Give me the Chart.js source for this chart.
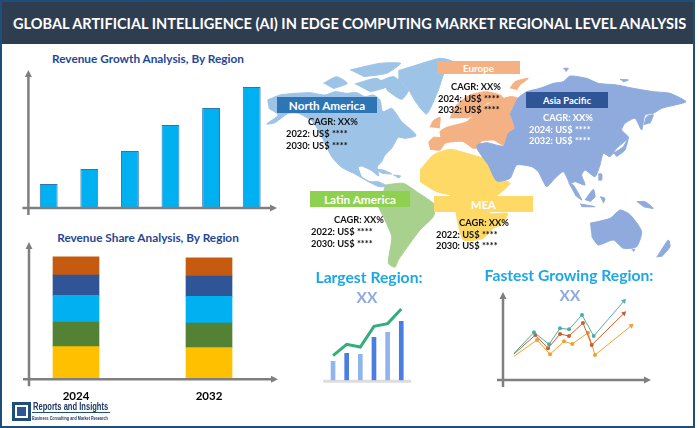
<!DOCTYPE html>
<html><head><meta charset="utf-8">
<script src="https://cdn.jsdelivr.net/npm/chart.js@4"></script>
<style>
html,body{margin:0;padding:0;background:#fff;}
body{width:700px;height:428px;position:relative;overflow:hidden;font-family:Lato,"Open Sans",sans-serif;}
#frame{position:absolute;left:0;top:0;width:691px;height:424px;border:2px solid #1F4E79;}
#header{position:absolute;left:2px;top:2px;width:691px;height:42px;background:#2E3D4F;}
#header span{position:absolute;left:11px;top:11px;color:#fff;font-weight:700;font-size:15px;line-height:20px;white-space:nowrap;transform-origin:left center;transform:scaleX(0.97);}
canvas{position:absolute;}
.t{position:absolute;white-space:nowrap;font-weight:700;transform:translate(-50%,-50%);}
.h{color:#1F4796;font-size:11.8px;}
.l{position:absolute;white-space:nowrap;font-weight:700;font-size:9.3px;color:#111;transform:translateY(-50%);}
.c{font-size:9.3px;color:#111;}
.w{color:#fff;}
.box{position:absolute;display:flex;align-items:center;justify-content:center;color:#fff;font-weight:700;white-space:nowrap;}
.big{color:#1DA7E5;font-size:15.7px;}
.xx{color:#8FAADC;font-size:15.5px;}
#logo{position:absolute;left:12px;top:402px;width:13px;height:13px;border:3px solid #1F4E79;background:#fff;}
#logo i{position:absolute;left:2px;top:2px;width:9px;height:9px;background:#2F5597;}
.n{font-family:"Liberation Sans",sans-serif;color:#1F3864;transform-origin:left center;transform:translateY(-50%) scaleX(0.72);}
</style></head><body>
<div id="frame"></div>
<div id="header"><span>GLOBAL ARTIFICIAL INTELLIGENCE (AI) IN EDGE COMPUTING MARKET REGIONAL LEVEL ANALYSIS</span></div>
<div class="t h" style="left:148px;top:58px">Revenue Growth Analysis, By Region</div>
<div class="t h" style="left:148px;top:237px">Revenue Share Analysis, By Region</div>

<canvas id="map" width="440" height="225" style="left:255px;top:50px"></canvas>
<canvas id="growth" width="285" height="165" style="left:0;top:60px"></canvas>
<canvas id="share" width="285" height="178" style="left:0;top:235px"></canvas>
<canvas id="mini" width="100" height="90" style="left:320px;top:300px"></canvas>
<canvas id="fast" width="170" height="105" style="left:490px;top:285px"></canvas>

<div class="box" style="left:277px;top:97px;width:100px;height:16px;background:#2E75B6;font-size:11.7px">North America</div>
<div class="box" style="left:437px;top:61px;width:83px;height:13px;background:#F4B183;font-size:9.8px">Europe</div>
<div class="box" style="left:526px;top:92px;width:82px;height:16px;background:#2F5597;font-size:9.5px">Asia Pacific</div>
<div class="box" style="left:310px;top:191px;width:100px;height:16px;background:#8ED04F;font-size:11.8px">Latin America</div>
<div class="box" style="left:434px;top:196px;width:99px;height:16px;background:#FFD966;font-size:11.2px">MEA</div>

<div class="t c" style="left:333px;top:121px">CAGR: XX%</div>
<div class="l" style="left:286px;top:133px">2022: US$ ****</div>
<div class="l" style="left:286px;top:145px">2030: US$ ****</div>
<div class="t c" style="left:476px;top:86px">CAGR: XX%</div>
<div class="l" style="left:438px;top:98px">2024: US$ ****</div>
<div class="l" style="left:438px;top:109px">2032: US$ ****</div>
<div class="t c w" style="left:568px;top:117px">CAGR: XX%</div>
<div class="l w" style="left:529px;top:129px">2024: US$ ****</div>
<div class="l w" style="left:529px;top:140px">2032: US$ ****</div>
<div class="t c" style="left:359px;top:219px">CAGR: XX%</div>
<div class="l" style="left:311px;top:231px">2022: US$ ****</div>
<div class="l" style="left:311px;top:243px">2030: US$ ****</div>
<div class="t c" style="left:484px;top:222px">CAGR: XX%</div>
<div class="l" style="left:436px;top:234px">2022: US$ ****</div>
<div class="l" style="left:436px;top:245px">2030: US$ ****</div>

<div class="t big" style="left:369px;top:277px">Largest Region:</div>
<div class="t xx" style="left:367px;top:297px">XX</div>
<div class="t big" style="left:569px;top:275px">Fastest Growing Region:</div>
<div class="t xx" style="left:570px;top:295px">XX</div>

<div id="logo"><i></i></div>
<div class="t n" style="left:33px;top:406px;font-size:10.5px">Reports and Insights</div>
<div style="position:absolute;left:32px;top:412px;width:78px;height:1px;background:#1F4E79"></div>
<div class="t n" style="left:32px;top:417.5px;font-size:5.2px">Business Consulting and Market Research</div>

<script>
// ---------- data ----------
const growthCategories = ['A','B','C','D','E','F'];
const growthValues = [24,39,57,83,100,121];

const shareYears = ['2024','2032'];
const shareYellow = [33,32];
const shareGreen  = [25,25];
const shareCyan   = [27,27];
const shareBlue   = [20.5,20.5];
const shareOrange = [18.5,18.5];

const miniCategories = ['1','2','3','4','5','6'];
const miniBars = [19,27,26,43,48,59];
const miniLine = [24.6,36,33.3,54,56.7,71.3];

const fastTealX = [11,31,46,57,66,79,90.7,121];
const fastTealY = [26.7,47.7,35.7,51.7,50.7,65,44,79];
const fastBrownX = [11,32.3,45,57,66,80,88.7,121];
const fastBrownY = [26,45,31.7,46,44,57,35,66.7];
const fastOrangeX = [11,34,47,61,69.3,85,92,128.3];
const fastOrangeY = [23.7,40,25.7,38.7,36,47.3,25,54.3];

// traced outlines in map units
const northAmerica = [
 [[-8,150],[30,135],[75,130],[120,128],[165,135],[195,125],[230,130],[260,128],[285,140],[310,135],[330,150],[338,185],[365,175],[378,190],[395,215],[430,245],[438,258],[405,265],[385,262],[365,295],[345,315],[335,335],[322,350],[326,378],[305,362],[275,348],[265,352],[275,380],[300,395],[325,395],[350,408],[328,410],[295,395],[255,372],[215,352],[185,320],[165,280],[145,240],[125,212],[85,190],[55,190],[15,218],[-10,222],[25,195],[-4,175]],
 [[385,62],[440,45],[510,25],[548,35],[522,70],[505,120],[470,192],[440,160],[410,110],[385,88]],
 [[160,100],[200,80],[232,100],[190,116]],
 [[240,60],[330,40],[392,40],[350,70],[280,80]],
 [[255,102],[320,85],[350,110],[300,126]],
 [[332,92],[372,80],[415,120],[395,148],[352,122]],
 [[310,358],[340,360],[365,372],[335,370]],
 [[370,375],[392,378],[385,385]]
];
const europe = [
 [[475,278],[490,262],[512,262],[510,245],[530,232],[590,215],[620,185],[660,160],[720,140],[742,145],[720,190],[735,235],[715,250],[700,285],[670,270],[630,275],[640,290],[610,295],[580,275],[550,275],[525,280],[510,300],[480,298]],
 [[540,205],[560,165],[600,135],[650,125],[690,135],[700,145],[650,160],[620,190],[590,205]],
 [[720,115],[735,95],[775,85],[750,105],[740,120]],
 [[480,232],[490,212],[510,202],[508,235]]
];
const asiaPacific = [
 [[742,145],[770,125],[810,115],[850,100],[880,95],[900,78],[950,85],[985,100],[1040,105],[1090,115],[1150,125],[1200,130],[1248,155],[1215,165],[1175,175],[1150,190],[1125,195],[1115,240],[1095,205],[1065,220],[1055,240],[1075,262],[1040,295],[1020,320],[1000,310],[990,345],[975,380],[945,360],[935,375],[945,405],[915,395],[900,400],[880,365],[855,385],[830,410],[805,365],[785,350],[740,345],[720,385],[680,393],[655,345],[640,325],[622,297],[622,285],[650,278],[700,288],[715,250],[735,235],[720,190]],
 [[1030,310],[1060,290],[1075,262],[1065,300],[1040,320]],
 [[1122,225],[1130,200],[1150,195],[1140,220]],
 [[895,398],[910,405],[935,450],[915,435]],
 [[945,450],[970,418],[975,440],[960,455]],
 [[985,372],[995,372],[995,390],[985,390]],
 [[990,440],[1005,445],[1000,460]],
 [[930,462],[975,470],[935,470]],
 [[1100,455],[1125,455],[1150,475],[1120,470]],
 [[960,520],[1020,505],[1050,480],[1075,490],[1090,505],[1115,545],[1100,590],[1060,595],[1030,570],[985,585],[965,560]],
 [[1160,622],[1195,570],[1200,590],[1175,620]],
 [[1085,598],[1095,598],[1090,605]],
 [[880,55],[895,55],[888,65]],
 [[1050,88],[1075,90],[1060,96]]
];
const africa = [
 [[450,360],[490,315],[540,298],[590,310],[640,325],[660,345],[680,380],[720,400],[690,430],[665,450],[660,490],[712,490],[700,520],[670,535],[640,565],[580,570],[560,500],[550,440],[500,425],[450,395]]
];
const southAmerica = [
 [[345,405],[400,400],[440,425],[495,465],[490,500],[450,540],[420,580],[385,630],[375,652],[355,640],[365,560],[340,500],[325,470]]
];

// ---------- helpers ----------
const GRAY = '#7F7F7F';
const arrowAxes = {
  id:'arrowAxes',
  afterDraw(chart){
    const o = chart.options.plugins.arrowAxes; if(!o) return;
    const {ctx,chartArea:a} = chart;
    const yAt = chart.scales.y.getPixelForValue(0);
    const xAt = a.left+(o.inset||0);
    const head = o.head||7, hw = o.headW||3.5;
    ctx.save();
    ctx.strokeStyle = ctx.fillStyle = GRAY; ctx.lineWidth = o.width||2.5;
    ctx.beginPath();
    ctx.moveTo(xAt-o.overLeft,yAt); ctx.lineTo(a.right+o.extRight-head+1,yAt);
    ctx.moveTo(xAt,yAt+o.overBottom); ctx.lineTo(xAt,a.top-o.extTop+head-1);
    ctx.stroke();
    ctx.beginPath();
    ctx.moveTo(a.right+o.extRight,yAt); ctx.lineTo(a.right+o.extRight-head,yAt-hw); ctx.lineTo(a.right+o.extRight-head,yAt+hw); ctx.closePath();
    ctx.moveTo(xAt,a.top-o.extTop); ctx.lineTo(xAt-hw,a.top-o.extTop+head); ctx.lineTo(xAt+hw,a.top-o.extTop+head); ctx.closePath();
    ctx.fill();
    ctx.restore();
  }
};
const groundLine = {
  id:'groundLine',
  beforeDatasetsDraw(chart){
    const o = chart.options.plugins.groundLine; if(!o) return;
    const {ctx,chartArea:a} = chart;
    ctx.save(); ctx.strokeStyle=o.color; ctx.lineWidth=o.width;
    ctx.beginPath(); ctx.moveTo(a.left-o.over,a.bottom+1); ctx.lineTo(a.right+o.over,a.bottom+1); ctx.stroke(); ctx.restore();
  }
};
Chart.register(arrowAxes,groundLine);
const base = {responsive:false,animation:false,events:[]};
const quiet = {legend:{display:false},tooltip:{enabled:false},title:{display:false}};

// ---------- growth bars ----------
new Chart(document.getElementById('growth'),{
  type:'bar',
  data:{labels:growthCategories,datasets:[{data:growthValues,backgroundColor:'#00B0F0',borderColor:'#2E75B6',borderWidth:1,barPercentage:0.44,categoryPercentage:1}]},
  options:{...base,layout:{padding:{left:28.4,right:13,top:20,bottom:17}},
    plugins:{...quiet,arrowAxes:{overLeft:6,overBottom:7,extRight:5,extTop:10}},
    scales:{x:{display:false},y:{display:false,min:0,max:128}}}
});

// ---------- share stacked bars ----------
const shareSeries = [[shareYellow,'#FFC000'],[shareGreen,'#548235'],[shareCyan,'#00B0F0'],[shareBlue,'#2F5597'],[shareOrange,'#C55A11']];
new Chart(document.getElementById('share'),{
  type:'bar',
  data:{labels:shareYears,datasets:shareSeries.map(([vals,col])=>({data:vals,backgroundColor:col,barThickness:46}))},
  options:{...base,layout:{padding:{left:9.5,right:9.5,top:17,bottom:0}},
    plugins:{...quiet,arrowAxes:{inset:19.5,overLeft:6,overBottom:7,extRight:2.5,extTop:10}},
    scales:{
      x:{stacked:true,grid:{display:false,drawTicks:false},border:{display:false},
         ticks:{padding:10,maxRotation:0,color:'#000',font:{family:'Lato',weight:'bold',size:11.5}}},
      y:{display:false,stacked:true,min:0,max:129}
    }}
});

// ---------- mini combo ----------
new Chart(document.getElementById('mini'),{
  type:'bar',
  data:{labels:miniCategories,datasets:[
    {type:'line',data:miniLine,borderColor:'#36AE7C',borderWidth:3,pointRadius:0,tension:0,order:0},
    {type:'bar',data:miniBars,backgroundColor:miniBars.map((v,i)=>i%2?'#4A7FE0':'#8FB4F0'),barThickness:4,order:1}
  ]},
  options:{...base,layout:{padding:{left:6.2,right:11.9,top:0.3,bottom:9.7}},
    plugins:{...quiet,groundLine:{color:'#DDDDDD',width:3,over:3}},
    scales:{x:{display:false},y:{display:false,min:0,max:80}}}
});

// ---------- fast growing lines ----------
const lineSet = (xs,ys,col,rot)=>({
  data:xs.map((x,i)=>({x,y:ys[i]})),showLine:true,borderColor:col,backgroundColor:col,borderWidth:1,tension:0,
  pointStyle:xs.map((_,i)=>i===xs.length-1?'triangle':'circle'),
  pointRadius:xs.map((_,i)=>i===0?0:(i===xs.length-1?3:2)),
  pointRotation:xs.map((_,i)=>i===xs.length-1?rot:0),pointBorderWidth:0
});
new Chart(document.getElementById('fast'),{
  type:'scatter',
  data:{datasets:[lineSet(fastTealX,fastTealY,'#4FADA8',41),lineSet(fastBrownX,fastBrownY,'#C8602C',46),lineSet(fastOrangeX,fastOrangeY,'#F0A030',51)]},
  options:{...base,layout:{padding:{left:13,right:15,top:7,bottom:10}},
    plugins:{...quiet,arrowAxes:{overLeft:6,overBottom:7,extRight:6,extTop:0}},
    scales:{x:{display:false,min:0,max:142},y:{display:false,min:0,max:88}}}
});

// ---------- map ----------
const shapeSets = (polys,col)=>polys.map(p=>({data:p.map(([x,y])=>({x,y})),showLine:true,fill:'shape',backgroundColor:col,borderColor:col,borderWidth:1,pointRadius:0,tension:0.2,clip:false}));
new Chart(document.getElementById('map'),{
  type:'scatter',
  data:{datasets:[
    ...shapeSets(northAmerica,'#9DC3E6'),
    ...shapeSets(asiaPacific,'#8FAADC'),
    ...shapeSets(europe,'#F4B183'),
    ...shapeSets(africa,'#FFD966'),
    ...shapeSets(southAmerica,'#A9D18E')
  ]},
  options:{...base,plugins:quiet,layout:{padding:0},
    scales:{x:{display:false,min:-45,max:1275},y:{display:false,reverse:true,min:0,max:675}}}
});
</script>
</body></html>
